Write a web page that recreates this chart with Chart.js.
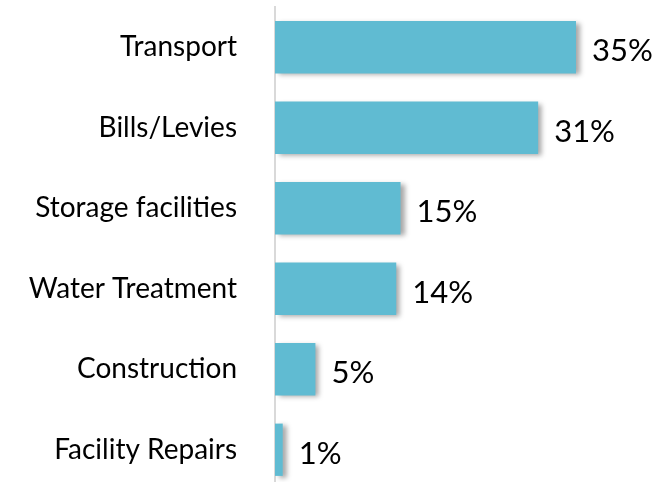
<!DOCTYPE html>
<html>
<head>
<meta charset="utf-8">
<script src="https://cdn.jsdelivr.net/npm/chart.js@4"></script>
<style>
  html, body { margin: 0; padding: 0; background: #fff; overflow: hidden; }
  #wrap { width: 662px; height: 490px; }
</style>
</head>
<body>
<div id="wrap"><canvas id="chart"></canvas></div>
<script>
'use strict';

let categories = ['Transport', 'Bills/Levies', 'Storage facilities', 'Water Treatment', 'Construction', 'Facility Repairs'];
// bar lengths; labels show them rounded
let shares = [35, 30.6, 14.6, 14.1, 4.7, 0.9];

// soft grey shadow behind the bars
const barShadow = {
    id: 'barShadow',
    beforeDatasetsDraw(chart) {
        const ctx = chart.ctx;
        ctx.save();
        ctx.shadowColor = 'rgba(0,0,0,0.35)';
        ctx.shadowBlur = 5;
        ctx.shadowOffsetX = 4;
        ctx.shadowOffsetY = 2;
    },
    afterDatasetsDraw(chart) {
        chart.ctx.restore();
    }
};

// percent labels at the end of each bar
const endLabels = {
    id: 'endLabels',
    afterDraw(chart) {
        const ctx = chart.ctx;
        const meta = chart.getDatasetMeta(0);
        ctx.save();
        ctx.font = '31px Lato';
        ctx.fillStyle = '#000';
        ctx.textBaseline = 'middle';
        ctx.textAlign = 'left';
        meta.data.forEach((bar, i) => {
            ctx.fillText(Math.round(shares[i]) + '%', bar.x + 16, bar.y + 4);
        });
        ctx.restore();
    }
};

const canvasEl = document.getElementById('chart');

let chart = new Chart(canvasEl.getContext('2d'), {
    type: 'bar',
    data: {
        labels: categories,
        datasets: [{
            data: shares,
            backgroundColor: '#60bbd2',
            borderWidth: 0,
            categoryPercentage: 1,
            barPercentage: 0.65
        }]
    },
    options: {
        indexAxis: 'y',
        responsive: true,
        maintainAspectRatio: false,
        animation: false,
        layout: { padding: { top: 7, bottom: 0, left: 0, right: 0 } },
        plugins: {
            legend: { display: false },
            tooltip: { enabled: false }
        },
        scales: {
            x: {
                display: false,
                min: 0,
                max: 45
            },
            y: {
                grid: { display: false },
                border: { display: true, color: '#d9d9d9', width: 2 },
                ticks: {
                    color: '#000',
                    padding: 30,
                    font: { family: 'Lato', size: 28 }
                },
                afterFit(scale) {
                    scale.width = 275;
                    scale.paddingTop = 0;
                    scale.paddingBottom = 0;
                }
            }
        }
    },
    plugins: [barShadow, endLabels]
});
</script>
</body>
</html>
